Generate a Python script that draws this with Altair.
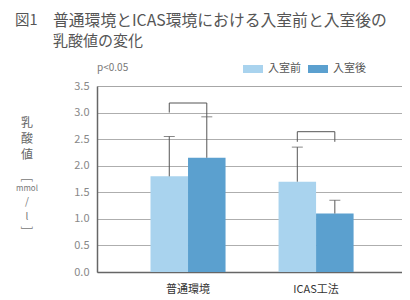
import altair as alt
import pandas as pd

groups = ["普通環境", "ICAS工法"]
series = ["入室前", "入室後"]
means = [1.8, 2.15, 1.7, 1.1]          # 普通環境(前,後), ICAS工法(前,後)
err_tops = [2.55, 2.92, 2.35, 1.35]
colors = ["#a9d3ee", "#5ba0cf"]
y_ticks = [0, 0.5, 1, 1.5, 2, 2.5, 3, 3.5]

# significance brackets: leg bottom (前), bracket top, leg bottom (後)
br_group = ["普通環境", "ICAS工法"]
br_left = [3.0, 2.45]
br_top = [3.18, 2.64]
br_right = [2.92, 2.45]

title_lines = ["普通環境とICAS環境における入室前と入室後の", "乳酸値の変化"]
fig_no = "図1"
sig_text = "p<0.05"
ytitle_main = ["乳", "酸", "値"]

FONT = "Noto Sans CJK JP"

rows = []
i = 0
for g in groups:
    for s in series:
        rows.append({"group": g, "series": s, "mean": means[i], "top": err_tops[i]})
        i += 1
df = pd.DataFrame(rows)

brows = []
for g, l, t, r in zip(br_group, br_left, br_top, br_right):
    brows += [
        {"group": g, "series": series[0], "y": l, "o": 0},
        {"group": g, "series": series[0], "y": t, "o": 1},
        {"group": g, "series": series[1], "y": t, "o": 2},
        {"group": g, "series": series[1], "y": r, "o": 3},
    ]
bdf = pd.DataFrame(brows)

x_axis = alt.Axis(title=None, labelAngle=0, ticks=False, labelPadding=11,
                  labelFontSize=11, labelColor="#333", labelFont=FONT,
                  domainColor="#666", domainWidth=1.5, grid=False)
y_axis = alt.Axis(title=None, values=y_ticks, format=".1f", ticks=False,
                  labelPadding=8, labelOverlap=False,
                  labelFontSize=11, labelColor="#888", labelFont=FONT,
                  gridColor="#999", gridWidth=0.8,
                  domainColor="#666", domainWidth=1.5)
x_scale = alt.Scale(domain=groups, paddingInner=0.414, paddingOuter=0.398, align=0.525)
y_scale = alt.Scale(domain=[0, 3.5], nice=False)

def X():
    return alt.X("group:N", sort=groups, scale=x_scale, axis=x_axis)

def XO():
    return alt.XOffset("series:N", sort=series, scale=alt.Scale(domain=series))

def Y(field):
    return alt.Y(field, scale=y_scale, axis=y_axis)

bars = alt.Chart(df).mark_bar().encode(
    x=X(), xOffset=XO(), y=Y("mean:Q"),
    color=alt.Color("series:N", sort=series,
                    scale=alt.Scale(domain=series, range=colors),
                    legend=alt.Legend(title=None, orient="none", direction="horizontal",
                                      legendX=146, legendY=-27,
                                      symbolType="M-1,-0.4L1,-0.4L1,0.4L-1,0.4Z",
                                      symbolSize=400, symbolStrokeWidth=0,
                                      labelFontSize=11, labelColor="#555", labelFont=FONT,
                                      labelOffset=5, columnPadding=7)),
)

err = alt.Chart(df).mark_rule(color="#555", strokeWidth=1).encode(
    x=X(), xOffset=XO(), y=Y("mean:Q"), y2="top:Q",
)
caps = alt.Chart(df).mark_tick(color="#555", thickness=1, size=11).encode(
    x=X(), xOffset=XO(), y=Y("top:Q"),
)
brackets = alt.Chart(bdf).mark_line(color="#555", strokeWidth=1).encode(
    x=X(), xOffset=XO(), y=Y("y:Q"), detail="group:N", order="o:Q",
)

one = pd.DataFrame({"k": [0]})
def txt(text, x, y, size, color="#555", align="left", angle=0):
    return alt.Chart(one).mark_text(
        text=text, align=align, baseline="middle", fontSize=size,
        font=FONT, color=color, angle=angle,
    ).encode(x=alt.value(x), y=alt.value(y))

texts = [
    txt(fig_no, -82, -65, 14.5),
    txt(title_lines[0], -44, -65, 15.8),
    txt(title_lines[1], -44, -45, 15),
    txt(sig_text, 0, -18, 10, color="#777"),
    txt(ytitle_main[0], -70, 37, 12, color="#666", align="center"),
    txt(ytitle_main[1], -70, 53, 12, color="#666", align="center"),
    txt(ytitle_main[2], -70, 69, 12, color="#666", align="center"),
    txt("[", -70, 94, 12, color="#777", align="center", angle=90),
    txt("mmol", -70, 103, 8, color="#777", align="center"),
    txt("/", -70, 116, 10, color="#777", align="center"),
    txt("l", -70, 131, 10, color="#777", align="center"),
    txt("]", -70, 142, 12, color="#777", align="center", angle=90),
]

chart = alt.layer(bars, err, caps, brackets, *texts).properties(
    width=305, height=186,
    padding={"left": 89, "top": 78, "right": 0, "bottom": 28},
    autosize="none",
).configure_view(stroke=None).configure(font=FONT)

chart.save("out.html", embed_options={"renderer": "svg", "actions": False})
